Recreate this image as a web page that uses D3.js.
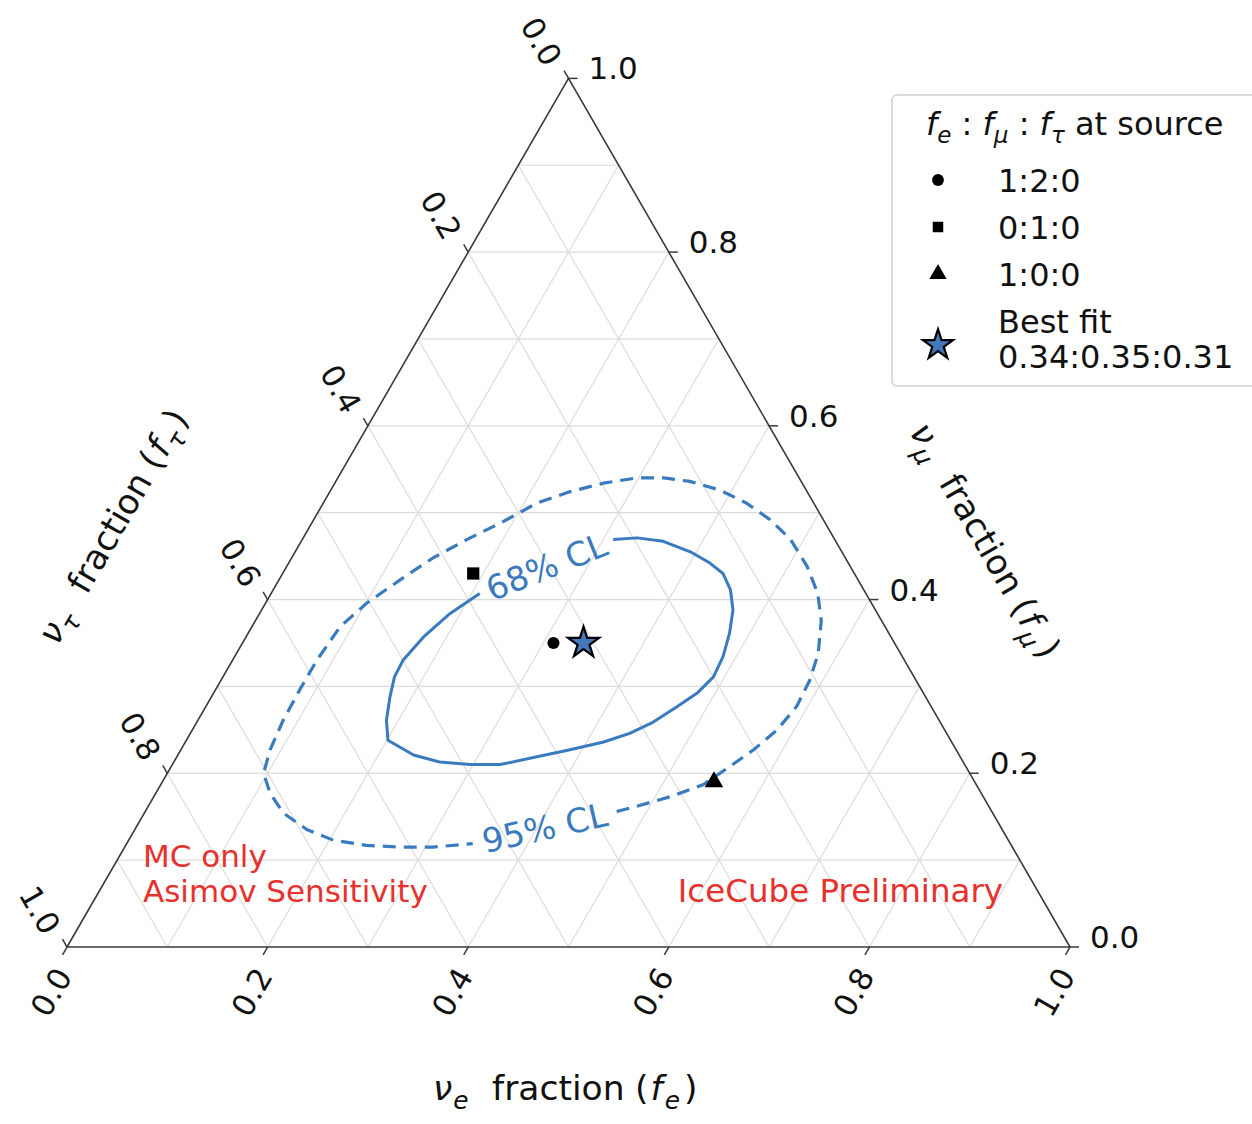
<!DOCTYPE html>
<html>
<head>
<meta charset="utf-8">
<script src="https://cdn.jsdelivr.net/npm/d3@7"></script>
<style>
  body { margin: 0; background: #fff; }
  svg { display: block; font-family: "DejaVu Sans", sans-serif; }
</style>
</head>
<body>
<svg id="chart" width="1252" height="1124"></svg>
<script>
// ---- Data: flavour fractions (f_e, f_mu); f_tau = 1 - f_e - f_mu ----
// 68% CL contour, open where the inline label sits
const cl68_fe  = [0.310, 0.333, 0.361, 0.394, 0.420, 0.439, 0.456, 0.470, 0.480, 0.487,
                  0.489, 0.482, 0.470, 0.455, 0.438, 0.417, 0.388, 0.359, 0.327, 0.297,
                  0.265, 0.235, 0.201, 0.188, 0.178, 0.171, 0.170, 0.177, 0.190, 0.208];
const cl68_fmu = [0.469, 0.471, 0.467, 0.455, 0.442, 0.430, 0.411, 0.388, 0.361, 0.334,
                  0.311, 0.292, 0.277, 0.259, 0.246, 0.236, 0.227, 0.219, 0.210, 0.210,
                  0.213, 0.221, 0.238, 0.261, 0.288, 0.311, 0.330, 0.357, 0.384, 0.407];

// 95% CL contour, open where the inline label sits
const cl95_fe  = [0.470, 0.487, 0.515, 0.541, 0.557, 0.571, 0.583, 0.589, 0.587, 0.580,
                  0.564, 0.545, 0.519, 0.487, 0.455, 0.422, 0.388, 0.353, 0.325, 0.298,
                  0.268, 0.239, 0.213, 0.188, 0.164, 0.141, 0.121, 0.101, 0.088, 0.084,
                  0.084, 0.085, 0.089, 0.096, 0.114, 0.139, 0.172, 0.204, 0.240, 0.275,
                  0.307, 0.345];
const cl95_fmu = [0.156, 0.162, 0.173, 0.187, 0.208, 0.227, 0.250, 0.277, 0.307, 0.338,
                  0.376, 0.407, 0.438, 0.469, 0.492, 0.511, 0.526, 0.536, 0.540, 0.540,
                  0.534, 0.524, 0.511, 0.488, 0.469, 0.448, 0.423, 0.396, 0.369, 0.330,
                  0.296, 0.261, 0.227, 0.200, 0.177, 0.154, 0.135, 0.123, 0.117, 0.115,
                  0.115, 0.119];

// Expected fractions at Earth for each source composition
const sourceNames = ["1:2:0", "0:1:0", "1:0:0"];
const source_fe   = [0.31, 0.19, 0.55];
const source_fmu  = [0.35, 0.43, 0.19];
const source_ftau = [0.34, 0.38, 0.26];
const sourceShapes = ["circle", "square", "triangle"];

// Best fit f_e : f_mu : f_tau
const bestFitLabel = "0.34:0.35:0.31";
const bestFit = [0.34, 0.35, 0.31];

// Axis ticks
const tickValues = [0.0, 0.2, 0.4, 0.6, 0.8, 1.0];
const tickLabels = ["0.0", "0.2", "0.4", "0.6", "0.8", "1.0"];
const gridValues = [0.1, 0.2, 0.3, 0.4, 0.5, 0.6, 0.7, 0.8, 0.9];

// ---- Layout ----
const svg = d3.select("#chart");
const X0 = 67, SIDE = 1003, Y0 = 947;
const H = SIDE * Math.sqrt(3) / 2;

// Horizontal position along the base, vertical position from f_mu
const sx = d3.scaleLinear().domain([0, 1]).range([X0, X0 + SIDE]);
const sy = d3.scaleLinear().domain([0, 1]).range([Y0, Y0 - H]);
const proj = (fe, fmu) => [sx(fe + fmu / 2), sy(fmu)];

const BLUE = "#3a7bc0";
const RED = "#e8302c";
const GRID = "#dcdcdc";
const INK = "#111";

// ---- Grid ----
const gridG = svg.append("g").attr("stroke", GRID).attr("stroke-width", 1.2).attr("fill", "none");
gridValues.forEach(v => {
  gridG.append("line").datum([proj(v, 0), proj(v, 1 - v)]);         // constant f_e
  gridG.append("line").datum([proj(0, v), proj(1 - v, v)]);         // constant f_mu
  gridG.append("line").datum([proj(1 - v, 0), proj(0, 1 - v)]);     // constant f_tau
});
gridG.selectAll("line")
  .attr("x1", d => d[0][0]).attr("y1", d => d[0][1])
  .attr("x2", d => d[1][0]).attr("y2", d => d[1][1]);

// ---- Triangle frame ----
svg.append("path")
  .attr("d", d3.line()([proj(0, 0), proj(1, 0), proj(0, 1)]) + "Z")
  .attr("fill", "none").attr("stroke", "#3a3a3a").attr("stroke-width", 1.6);

// ---- Ticks and tick labels ----
const TL = 9;
const FS_TICK = 31;
const ticksG = svg.append("g").attr("stroke", "#3a3a3a").attr("stroke-width", 1.5);
const labG = svg.append("g").attr("font-size", FS_TICK).attr("fill", INK);

tickValues.forEach((t, i) => {
  // bottom axis: f_e
  const b = proj(t, 0);
  ticksG.append("line").attr("x1", b[0]).attr("y1", b[1])
    .attr("x2", b[0] - 0.5 * TL).attr("y2", b[1] + 0.866 * TL);
  labG.append("text")
    .attr("transform", `translate(${b[0] - 16},${b[1] + 45}) rotate(-60)`)
    .attr("text-anchor", "middle").attr("dy", "0.36em").text(tickLabels[i]);

  // right axis: f_mu
  const r = proj(1 - t, t);
  ticksG.append("line").attr("x1", r[0]).attr("y1", r[1])
    .attr("x2", r[0] + TL).attr("y2", r[1]);
  labG.append("text").attr("x", r[0] + 20).attr("y", r[1] + 1).text(tickLabels[i]);

  // left axis: f_tau
  const l = proj(0, 1 - t);
  ticksG.append("line").attr("x1", l[0]).attr("y1", l[1])
    .attr("x2", l[0] - 0.5 * TL).attr("y2", l[1] - 0.866 * TL);
  labG.append("text")
    .attr("transform", `translate(${l[0] - 27},${l[1] - 37}) rotate(60)`)
    .attr("text-anchor", "middle").attr("dy", "0.36em").text(tickLabels[i]);
});

// ---- Rich text helper: italic symbols, subscripts, extra spacing ----
// parts: {t, i (italic), sub (subscript), x (absolute x), dx}
function richText(sel, parts, fs) {
  let shift = 0;
  parts.forEach(p => {
    const ts = sel.append("tspan").text(p.t);
    if (p.i) ts.attr("font-style", "italic");
    const target = p.sub ? 0.25 * fs : 0;
    if (target !== shift) { ts.attr("dy", target - shift); shift = target; }
    if (p.sub) ts.attr("font-size", 0.72 * fs);
    if (p.x !== undefined) ts.attr("x", p.x);
    if (p.dx) ts.attr("dx", p.dx);
  });
  return sel;
}

// Axis title: "ν_x fraction (f_x)", laid out from a start position x0
const FS_TITLE = 34.5;
const titleParts = (sub, x0) => [
  { t: "ν", i: true, x: x0 }, { t: sub, i: true, sub: true, dx: 1 },
  { t: "fraction", x: x0 + 59 },
  { t: "(", x: x0 + 202 }, { t: "f", i: true, dx: 2 }, { t: sub, i: true, sub: true, dx: 2 },
  { t: ")", dx: 4 }
];

richText(svg.append("text").attr("y", 1100)
  .attr("font-size", FS_TITLE).attr("fill", INK), titleParts("e", 433), FS_TITLE);

richText(svg.append("text").attr("transform", "translate(115,522) rotate(-60)")
  .attr("y", 0.36 * FS_TITLE).attr("font-size", FS_TITLE).attr("fill", INK),
  titleParts("τ", -137), FS_TITLE);

richText(svg.append("text").attr("transform", "translate(988,544) rotate(60)")
  .attr("y", 0.36 * FS_TITLE).attr("font-size", FS_TITLE).attr("fill", INK),
  titleParts("μ", -137), FS_TITLE);

// ---- Contours ----
const line = d3.line().x(d => d[0]).y(d => d[1]);
const pts68 = cl68_fe.map((fe, i) => proj(fe, cl68_fmu[i]));
const pts95 = cl95_fe.map((fe, i) => proj(fe, cl95_fmu[i]));

svg.append("path").attr("d", line(pts68))
  .attr("fill", "none").attr("stroke", BLUE).attr("stroke-width", 3)
  .attr("stroke-linejoin", "round");
svg.append("path").attr("d", line(pts95))
  .attr("fill", "none").attr("stroke", BLUE).attr("stroke-width", 3.2)
  .attr("stroke-dasharray", "13,8");

// Inline contour labels, centred in the gap between the contour ends
function gapLabel(pts, text) {
  const a = pts[pts.length - 1], b = pts[0];
  const ang = Math.atan2(b[1] - a[1], b[0] - a[0]) * 180 / Math.PI;
  svg.append("text")
    .attr("transform", `translate(${(a[0] + b[0]) / 2},${(a[1] + b[1]) / 2}) rotate(${ang})`)
    .attr("text-anchor", "middle").attr("dy", "0.36em")
    .attr("font-size", 33.5).attr("fill", BLUE).text(text);
}
gapLabel(pts68, "68% CL");
gapLabel(pts95, "95% CL");

// ---- Markers ----
const symType = { circle: d3.symbolCircle, square: d3.symbolSquare, triangle: d3.symbolTriangle };
const symSize = { circle: 115, square: 150, triangle: 150 };
sourceNames.forEach((n, i) => {
  const p = proj(source_fe[i], source_fmu[i]);
  svg.append("path")
    .attr("d", d3.symbol(symType[sourceShapes[i]], symSize[sourceShapes[i]])())
    .attr("transform", `translate(${p[0]},${p[1]})`).attr("fill", "#000");
});
const bf = proj(bestFit[0], bestFit[1]);
const STAR_FILL = "#4379bb";
svg.append("path").attr("d", d3.symbol(d3.symbolStar, 300)())
  .attr("transform", `translate(${bf[0]},${bf[1]})`)
  .attr("fill", STAR_FILL).attr("stroke", "#000").attr("stroke-width", 2.2);

// ---- Annotations ----
const annG = svg.append("g").attr("fill", RED);
annG.append("text").attr("x", 143).attr("y", 867).attr("font-size", 31).text("MC only");
annG.append("text").attr("x", 143).attr("y", 902).attr("font-size", 31).text("Asimov Sensitivity");
annG.append("text").attr("x", 1003).attr("y", 902).attr("font-size", 32.5)
  .attr("text-anchor", "end").text("IceCube Preliminary");

// ---- Legend ----
const FS_LEG = 32;
const lg = svg.append("g");
lg.append("rect").attr("x", 892).attr("y", 95).attr("width", 370).attr("height", 291)
  .attr("rx", 5).attr("fill", "#fff").attr("fill-opacity", 0.9)
  .attr("stroke", "#d0d0d0").attr("stroke-width", 1.5);

richText(lg.append("text").attr("x", 926).attr("y", 135).attr("font-size", FS_LEG).attr("fill", INK), [
  { t: "f", i: true }, { t: "e", i: true, sub: true }, { t: " : " },
  { t: "f", i: true }, { t: "μ", i: true, sub: true }, { t: " : " },
  { t: "f", i: true }, { t: "τ", i: true, sub: true }, { t: " at source" }
], FS_LEG);

const rowY = [180, 227, 274];
const legSize = { circle: 110, square: 110, triangle: 130 };
sourceNames.forEach((n, i) => {
  lg.append("path")
    .attr("d", d3.symbol(symType[sourceShapes[i]], legSize[sourceShapes[i]])())
    .attr("transform", `translate(938,${rowY[i]})`).attr("fill", "#000");
  lg.append("text").attr("x", 998).attr("y", rowY[i]).attr("dy", "0.36em")
    .attr("font-size", FS_LEG).attr("fill", INK).text(n);
});
lg.append("path").attr("d", d3.symbol(d3.symbolStar, 280)())
  .attr("transform", "translate(938,345)")
  .attr("fill", STAR_FILL).attr("stroke", "#000").attr("stroke-width", 2.2);
lg.append("text").attr("x", 998).attr("y", 321).attr("dy", "0.36em")
  .attr("font-size", FS_LEG).attr("fill", INK).text("Best fit");
lg.append("text").attr("x", 998).attr("y", 356).attr("dy", "0.36em")
  .attr("font-size", FS_LEG).attr("fill", INK).text(bestFitLabel);
</script>
</body>
</html>
